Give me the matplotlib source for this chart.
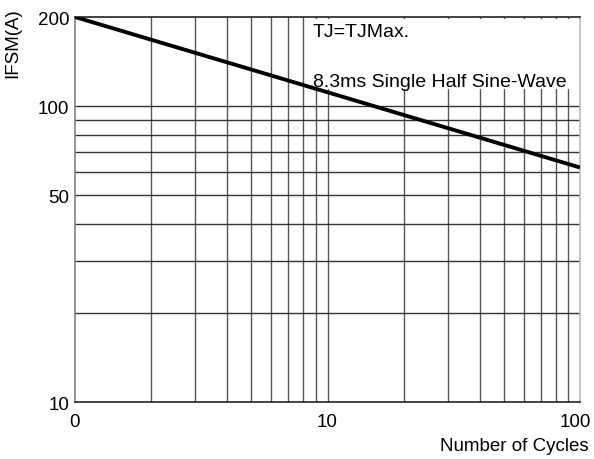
import matplotlib.pyplot as plt
from matplotlib.patches import Rectangle
from matplotlib.transforms import ScaledTranslation

plt.rcParams['font.family'] = ['Liberation Sans', 'DejaVu Sans']

# curve data
cycles = [1, 100]
ifsm = [200, 62]

# grid / tick data
x_grid = [2, 3, 4, 5, 6, 7, 8, 9, 10, 20, 30, 40, 50, 60, 70, 80, 90]
y_grid = [20, 30, 40, 50, 60, 70, 80, 90, 100]
x_ticks = [1, 10, 100]
x_labels = ['0', '10', '100']
y_ticks = [10, 50, 100, 200]
y_labels = ['10', '50', '100', '200']

fig = plt.figure(figsize=(5.94, 4.6), dpi=100)
ax = fig.add_axes([75 / 594, 1 - 403 / 460, 505 / 594, 385 / 460])

ax.set_xscale('log')
ax.set_yscale('log')
ax.set_xlim(1, 100)
ax.set_ylim(10, 200)

# grid lines
for x in x_grid:
    ax.axvline(x, color='#555555', lw=1, zorder=0.5)
for y in y_grid:
    ax.axhline(y, color='#333333', lw=1, zorder=0.5)

# white area behind the notes
ax.add_patch(Rectangle((0.46, 0.813), 0.54, 0.182, transform=ax.transAxes,
                       fc='white', ec='none', zorder=1))

ax.plot(cycles, ifsm, color='black', lw=2.8, zorder=3, solid_capstyle='butt')

ax.set_xticks(x_ticks)
ax.set_xticklabels(x_labels)
ax.set_yticks(y_ticks)
ax.set_yticklabels(y_labels)
ax.minorticks_off()
ax.tick_params(axis='both', length=0, labelsize=13.5)
ax.tick_params(axis='x', pad=8)
ax.tick_params(axis='y', pad=4)

# nudge the last x label so it stays inside the picture
last = ax.get_xticklabels()[-1]
last.set_transform(last.get_transform() + ScaledTranslation(-5 / 100, 0, fig.dpi_scale_trans))

ax.spines['left'].set_color('#808080')
ax.spines['right'].set_color('#bbbbbb')
ax.spines['top'].set_color('#222222')
ax.spines['bottom'].set_color('#222222')
for s in ax.spines.values():
    s.set_linewidth(1.2)

ax.text(313 / 594, 1 - 37 / 460, 'TJ=TJMax.', transform=fig.transFigure,
        fontsize=14, va='baseline', ha='left', zorder=4)
ax.text(313 / 594, 1 - 87 / 460, '8.3ms Single Half Sine-Wave', transform=fig.transFigure,
        fontsize=14, va='baseline', ha='left', zorder=4)

fig.text(13 / 594, 1 - 8 / 460, 'IFSM(A)', rotation=90, ha='center', va='top', fontsize=13.5)
fig.text(589 / 594, 1 - 447 / 460, 'Number of Cycles', ha='right', va='center', fontsize=13.5)

fig.savefig('out.png', dpi=100)
